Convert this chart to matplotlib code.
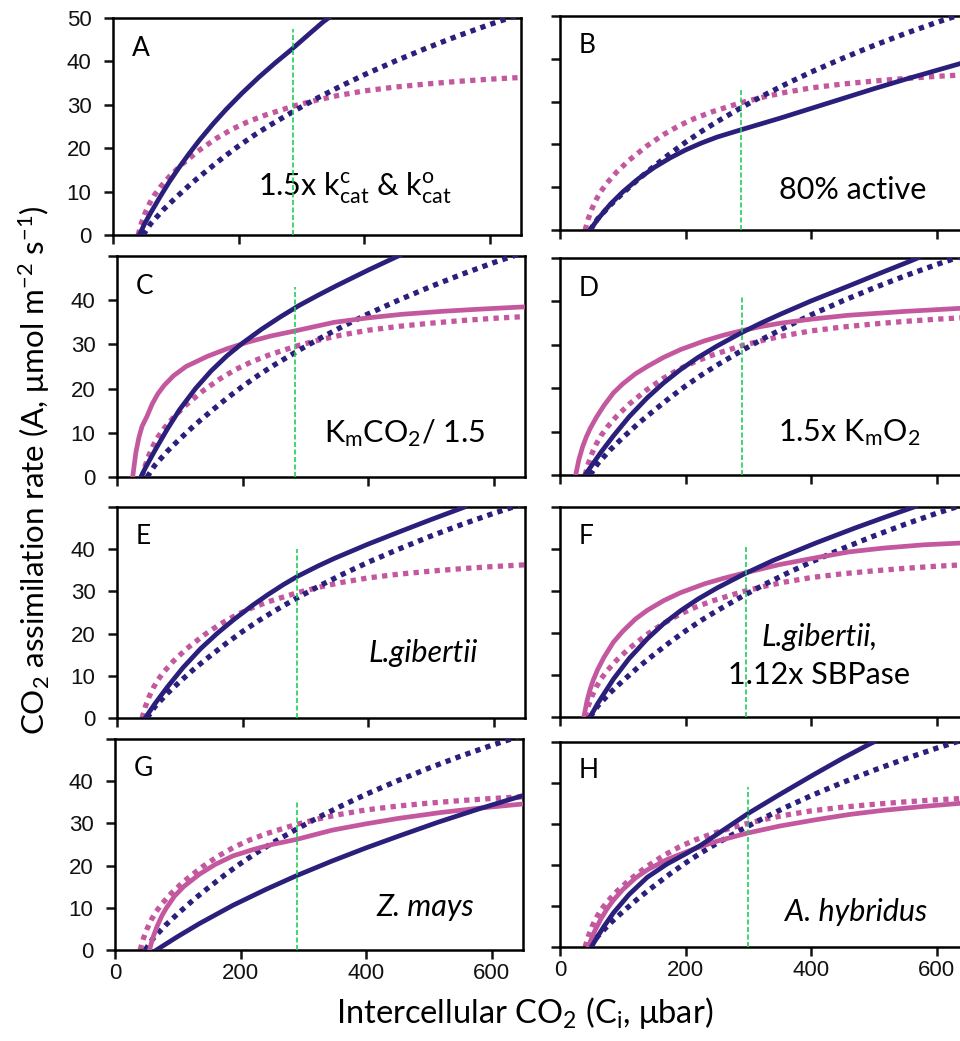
import matplotlib
matplotlib.use('Agg')
import matplotlib.pyplot as plt

plt.rcParams['font.family'] = ['Lato', 'DejaVu Sans']
plt.rcParams['mathtext.default'] = 'regular'

navy = '#2b1f7c'
pink = '#c4589e'
green = '#1fd05a'

# curvas de referencia (punteadas), iguales en todos los paneles
ref_blue_ci = [48, 60, 80, 100, 125, 150, 175, 200, 225, 250, 290, 325, 360, 400,
               450, 500, 550, 600, 650]
ref_blue_a = [0, 2.6, 5.8, 8.6, 11.9, 14.9, 17.8, 20.5, 23.0, 25.3, 28.7, 31.5, 34.1,
              36.9, 40.1, 43.1, 45.9, 48.5, 50.9]
ref_pink_ci = [40, 45, 51, 58, 65, 75, 90, 110, 138, 165, 190, 215, 242, 270, 290,
               325, 357, 400, 450, 500, 550, 600, 650]
ref_pink_a = [0, 2.6, 5, 7.2, 9, 11, 13.5, 16.3, 19.6, 22.3, 24.4, 26.1, 27.6, 28.9,
              29.8, 31.1, 32.1, 33.2, 34.1, 34.8, 35.4, 35.9, 36.3]

# curvas sólidas de cada panel
a_blue_ci = [42, 50, 60, 75, 90, 105, 120, 138, 160, 180, 205, 232, 258, 284, 310, 334, 345]
a_blue_a = [0, 2.5, 5.1, 8.8, 12.3, 15.5, 18.5, 21.9, 25.7, 28.9, 32.6, 36.3, 39.6,
            42.7, 46.0, 49.0, 50.2]

b_blue_ci = [48, 60, 80, 100, 125, 150, 175, 200, 225, 250, 288, 350, 400, 450, 500,
             550, 600, 650]
b_blue_a = [0, 2.5, 6.0, 8.9, 12.0, 14.6, 16.8, 18.7, 20.3, 21.7, 23.4, 26.1, 28.4,
            30.7, 33.0, 35.2, 37.3, 39.4]

c_blue_ci = [38, 45, 60, 80, 100, 125, 150, 175, 200, 230, 260, 290, 320, 350, 400,
             445, 450]
c_blue_a = [0, 2.0, 5.9, 10.8, 15.3, 20.0, 24.0, 27.4, 30.3, 33.4, 36.2, 38.8, 41.1,
            43.3, 46.8, 49.8, 50.1]
c_pink_ci = [25, 30, 35, 40, 48, 56, 65, 75, 90, 110, 144, 175, 208, 245, 282, 346,
             400, 453, 520, 581, 650]
c_pink_a = [0, 5.5, 9, 11.5, 13.8, 16.5, 18.8, 20.7, 22.9, 25, 27.3, 29, 30.5, 31.9,
            33, 35, 36, 36.8, 37.5, 38, 38.5]

d_blue_ci = [40, 50, 65, 85, 110, 139, 165, 192, 220, 250, 288, 320, 352, 400, 459,
             510, 555, 570]
d_blue_a = [0, 2.1, 5.2, 9.0, 13.4, 17.8, 21.2, 24.3, 27.1, 29.7, 32.7, 35.0, 37.1,
            40.1, 43.5, 46.5, 49.1, 50.0]
d_pink_ci = [25, 30, 36, 42, 48, 58, 70, 85, 100, 120, 139, 165, 192, 230, 260, 288,
             320, 352, 400, 459, 550, 650]
d_pink_a = [0, 3.5, 6.5, 8.8, 10.7, 13.3, 16.0, 18.9, 21.0, 23.3, 25.0, 27.1, 28.9,
            30.9, 32.2, 33.2, 34.2, 35.0, 35.9, 36.8, 37.7, 38.5]

e_blue_ci = [45, 60, 80, 105, 133, 160, 186, 215, 240, 265, 288, 320, 346, 400, 453,
             500, 554]
e_blue_a = [0, 3.3, 7.3, 11.9, 16.4, 20.1, 23.3, 26.6, 29.2, 31.6, 33.6, 36.0, 37.8,
            41.2, 44.3, 47.0, 50.0]

f_blue_ci = [48, 60, 85, 110, 139, 165, 192, 220, 250, 294, 340, 407, 470, 520, 566]
f_blue_a = [0, 3.2, 9.0, 13.9, 18.6, 22.2, 25.3, 28.1, 30.7, 34.1, 37.3, 41.4, 45.0,
            47.7, 50.1]
f_pink_ci = [38, 43, 48, 53, 60, 70, 85, 100, 120, 139, 165, 192, 230, 260, 294, 350,
             407, 460, 514, 580, 650]
f_pink_a = [0, 3.8, 6.6, 8.8, 11.3, 14.2, 17.8, 20.4, 23.3, 25.4, 27.7, 29.6, 31.7,
            33.0, 34.3, 36.3, 37.9, 39.3, 40.2, 41.0, 41.5]

g_blue_ci = [66, 100, 135, 188, 241, 289, 346, 400, 452, 515, 579, 650]
g_blue_a = [0, 3.2, 6.3, 10.6, 14.4, 17.6, 21.1, 24.2, 27.0, 30.3, 33.4, 36.6]
g_pink_ci = [55, 60, 67, 75, 82, 95, 110, 135, 160, 188, 220, 250, 289, 346, 400, 452,
             520, 579, 650]
g_pink_a = [0, 2.8, 5.6, 8.2, 10.0, 12.8, 15.1, 18.0, 20.3, 22.3, 23.8, 25.0, 26.2,
            28.4, 29.9, 31.2, 32.6, 33.6, 34.6]

h_blue_ci = [50, 60, 70, 85, 110, 139, 170, 200, 225, 260, 299, 350, 406, 450, 492, 500]
h_blue_a = [0, 2.6, 5.0, 8.3, 12.8, 17.0, 20.2, 22.7, 24.9, 28.5, 32.5, 37.2, 42.2,
            46.0, 49.4, 50.0]
h_pink_ci = [45, 50, 55, 65, 75, 85, 100, 120, 139, 170, 213, 250, 299, 350, 406, 460,
             513, 580, 650]
h_pink_a = [0, 2.0, 3.8, 6.8, 9.3, 11.4, 14.0, 16.8, 18.8, 21.3, 23.9, 25.8, 27.8,
            29.5, 31.0, 32.3, 33.3, 34.3, 35.2]

letras = ['A', 'B', 'C', 'D', 'E', 'F', 'G', 'H']
blue_ci = [a_blue_ci, b_blue_ci, c_blue_ci, d_blue_ci, e_blue_ci, f_blue_ci, g_blue_ci, h_blue_ci]
blue_a = [a_blue_a, b_blue_a, c_blue_a, d_blue_a, e_blue_a, f_blue_a, g_blue_a, h_blue_a]
pink_ci = [None, None, c_pink_ci, d_pink_ci, None, f_pink_ci, g_pink_ci, h_pink_ci]
pink_a = [None, None, c_pink_a, d_pink_a, None, f_pink_a, g_pink_a, h_pink_a]

# línea verde (Ci ambiente) de cada panel
green_ci = [286, 288, 283, 290, 286, 296, 290, 300]
green_top = [47.5, 33, 43, 41, 40, 41, 35, 39]

# posición de cada panel en píxeles: izquierda, arriba, abajo
cajas = [(113, 18, 235), (560, 16, 230),
         (117, 256, 477), (560, 258, 475),
         (117, 507, 718), (560, 507, 717),
         (115, 739, 950), (560, 742, 947)]

W, H = 960, 1041
fig = plt.figure(figsize=(W / 100, H / 100), dpi=100)

for i, letra in enumerate(letras):
    izq, arr, aba = cajas[i]
    ax = fig.add_axes([izq / W, 1 - aba / H, 408 / W, (aba - arr) / H])

    ax.plot(ref_pink_ci, ref_pink_a, color=pink, lw=3.8, ls=(0, (1, 1)),
            dash_capstyle='butt', zorder=2)
    ax.plot(ref_blue_ci, ref_blue_a, color=navy, lw=3.8, ls=(0, (1, 1)),
            dash_capstyle='butt', zorder=3)
    if pink_ci[i] is not None:
        ax.plot(pink_ci[i], pink_a[i], color=pink, lw=3.4, zorder=4)
    ax.plot(blue_ci[i], blue_a[i], color=navy, lw=3.4, zorder=5)
    ax.plot([green_ci[i], green_ci[i]], [0, green_top[i]], color=green,
            lw=1.2, ls=(0, (3, 1.5)), zorder=6)

    ax.set_xlim(0, 650)
    ax.set_ylim(0, 50)
    ax.set_xticks([0, 200, 400, 600])
    ax.set_yticks([0, 10, 20, 30, 40, 50])
    for lado in ['top', 'bottom', 'left', 'right']:
        ax.spines[lado].set_linewidth(1.8)
    ax.tick_params(direction='out', length=6.5, width=1.8, colors='#111111')
    ax.tick_params(axis='y', labelsize=16, pad=9, labelfontfamily='Liberation Sans')
    ax.tick_params(axis='x', labelsize=16, pad=3,
                   labelfontfamily=['Liberation Sans Narrow', 'Liberation Sans'])

    if i % 2 == 0:
        if i == 0:
            ax.set_yticklabels(['0', '10', '20', '30', '40', '50'])
        else:
            ax.set_yticklabels(['0', '10', '20', '30', '40', ''])
    else:
        ax.set_yticklabels([])
    if i < 6:
        ax.set_xticklabels([])

    ax.text(30, 43, letra, fontsize=19, ha='left', va='center')

axs = fig.axes
axs[0].text(385, 11, '1.5x k$^{c}_{cat}$ & k$^{o}_{cat}$', fontsize=22,
            ha='center', va='center')
axs[1].text(466, 9.3, '80% active', fontsize=22, ha='center', va='center')
axs[2].text(458, 10, 'K$_{m}$CO$_{2}$/ 1.5', fontsize=22, ha='center', va='center')
axs[3].text(461, 9.7, '1.5x K$_{m}$O$_{2}$', fontsize=22, ha='center', va='center')
axs[4].text(488, 15.5, 'L.gibertii', fontsize=22, style='italic',
            ha='center', va='center')
axs[5].text(413, 19, 'L.gibertii,', fontsize=22, style='italic',
            ha='center', va='center')
axs[5].text(413, 10, '1.12x SBPase', fontsize=22, ha='center', va='center')
axs[6].text(495, 10.2, 'Z. mays', fontsize=22, style='italic',
            ha='center', va='center')
axs[7].text(471, 8.5, 'A. hybridus', fontsize=22, style='italic',
            ha='center', va='center')

fig.text(525 / W, 1 - 1013 / H, 'Intercellular CO$_{2}$ (C$_{i}$, μbar)',
         fontsize=23.5, ha='center', va='center')
fig.text(34 / W, 1 - 470 / H,
         'CO$_{2}$ assimilation rate (A, μmol m$^{-2}$ s$^{-1}$)',
         fontsize=22.5, ha='center', va='center', rotation=90)

fig.savefig('out.png', dpi=100)
